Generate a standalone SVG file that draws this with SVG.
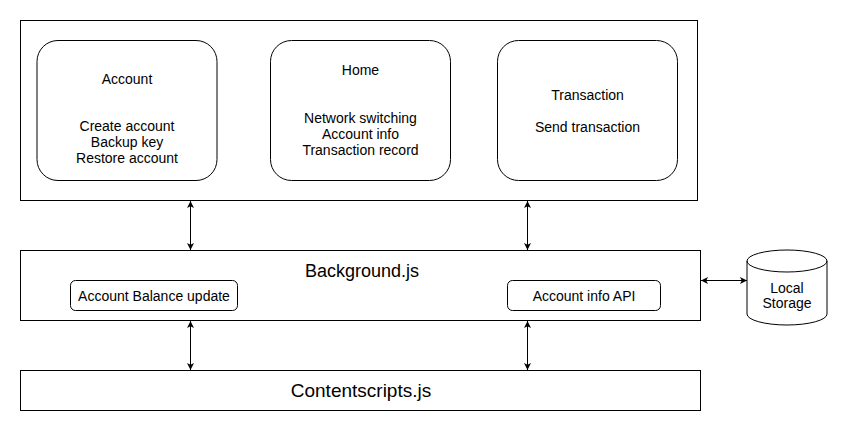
<svg xmlns="http://www.w3.org/2000/svg" width="849" height="431" viewBox="0 0 849 431">
<style>
.box{fill:#fff;stroke:#000;stroke-width:1}
.t{font-family:"Liberation Sans",Arial,Helvetica,sans-serif;font-size:14px;fill:#000;text-anchor:middle}
.big{font-size:18px}
.big2{font-size:19px}
.conn{stroke:#000;stroke-width:1;fill:none;marker-start:url(#arr);marker-end:url(#arr)}
</style>
<defs>
<marker id="arr" viewBox="0 0 7 7" refX="7" refY="3.5" markerWidth="7" markerHeight="7" markerUnits="userSpaceOnUse" orient="auto-start-reverse">
<path d="M0,0 L7,3.5 L0,7 L1.75,3.5 Z" fill="#000"/>
</marker>
</defs>
<rect width="849" height="431" fill="#fff"/>
<g id="ui">
<rect class="box" x="20.5" y="20.5" width="677" height="180"/>
</g>
<g id="account">
<rect class="box" x="37" y="40.5" width="180" height="140" rx="21"/>
<text class="t" x="127" y="84">Account</text>
<text class="t" x="127" y="131">Create account</text>
<text class="t" x="127" y="147">Backup key</text>
<text class="t" x="127" y="163">Restore account</text>
</g>
<g id="home">
<rect class="box" x="270.5" y="40.5" width="180" height="140" rx="21"/>
<text class="t" x="360.5" y="75">Home</text>
<text class="t" x="360.5" y="123">Network switching</text>
<text class="t" x="360.5" y="139">Account info</text>
<text class="t" x="360.5" y="155">Transaction record</text>
</g>
<g id="transaction">
<rect class="box" x="497.5" y="40.5" width="180" height="140" rx="21"/>
<text class="t" x="587.5" y="99.5">Transaction</text>
<text class="t" x="587.5" y="131.5">Send transaction</text>
</g>
<g id="background">
<rect class="box" x="20.5" y="250.5" width="680" height="70"/>
<text class="t big" x="362" y="277">Background.js</text>
</g>
<g id="balance">
<rect class="box" x="70.5" y="280.5" width="167" height="30" rx="5"/>
<text class="t" x="154" y="301">Account Balance update</text>
</g>
<g id="api">
<rect class="box" x="507.5" y="280.5" width="153" height="30" rx="5"/>
<text class="t" x="584" y="301">Account info API</text>
</g>
<g id="contentscripts">
<rect class="box" x="20.5" y="370.5" width="680" height="40"/>
<text class="t big2" x="361" y="397">Contentscripts.js</text>
</g>
<g id="storage">
<path class="box" d="M747,261 A40,11 0 0 1 827,261 L827,314 A40,11 0 0 1 747,314 Z"/>
<path d="M747,261 A40,11 0 0 0 827,261" fill="none" stroke="#000" stroke-width="1"/>
<text class="t" x="787" y="293">Local</text>
<text class="t" x="787" y="308">Storage</text>
</g>
<g id="connectors">
<line class="conn" x1="190.5" y1="201" x2="190.5" y2="250"/>
<line class="conn" x1="527.5" y1="201" x2="527.5" y2="250"/>
<line class="conn" x1="190.5" y1="321" x2="190.5" y2="370"/>
<line class="conn" x1="527.5" y1="321" x2="527.5" y2="370"/>
<line class="conn" x1="701" y1="280.5" x2="747" y2="280.5"/>
</g>
</svg>
